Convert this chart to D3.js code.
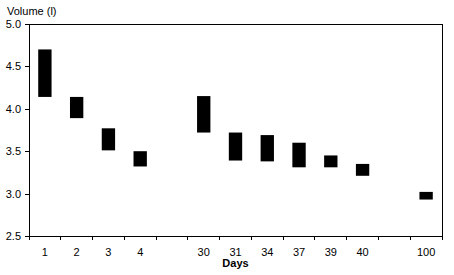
<!DOCTYPE html>
<html>
<head>
<meta charset="utf-8">
<script src="https://cdn.jsdelivr.net/npm/d3@7"></script>
<style>
  body { margin: 0; background: #fff; }
  text { font-family: "Liberation Sans", Arial, sans-serif; fill: #000; }
</style>
</head>
<body>
<div id="chart"></div>
<script>
// categories (empty strings are gaps on the axis)
const days = ["1", "2", "3", "4", "", "30", "31", "34", "37", "39", "40", "", "100"];
// floating bars: low and high volume per day
const lowVals  = [4.14, 3.89, 3.51, 3.32, null, 3.72, 3.39, 3.38, 3.31, 3.31, 3.21, null, 2.93];
const highVals = [4.70, 4.14, 3.77, 3.50, null, 4.15, 3.72, 3.69, 3.60, 3.45, 3.35, null, 3.02];
const yTicks = [2.5, 3.0, 3.5, 4.0, 4.5, 5.0];

const width = 454, height = 275;
const plotLeft = 29, plotRight = 442, plotTop = 24, plotBottom = 236;

const svg = d3.select("#chart").append("svg")
    .attr("width", width)
    .attr("height", height);

const x = d3.scaleBand()
    .domain(days.map((d, i) => i))
    .range([plotLeft, plotRight]);

const y = d3.scaleLinear()
    .domain([2.5, 5.0])
    .range([plotBottom, plotTop]);

const barW = x.bandwidth() * 0.42;

// frame on top and right
svg.append("path")
    .attr("d", `M${plotLeft},${plotTop}H${plotRight}V${plotBottom}`)
    .attr("fill", "none")
    .attr("stroke", "#000")
    .attr("shape-rendering", "crispEdges");

// bars
const rows = days.map((d, i) => ({ i, lo: lowVals[i], hi: highVals[i] }))
    .filter(d => d.lo != null);

svg.selectAll("rect.bar")
    .data(rows)
    .enter().append("rect")
    .attr("class", "bar")
    .attr("x", d => x(d.i) + (x.bandwidth() - barW) / 2)
    .attr("width", barW)
    .attr("y", d => y(d.hi))
    .attr("height", d => y(d.lo) - y(d.hi))
    .attr("fill", "#000");

// y axis
const yAxis = svg.append("g")
    .attr("transform", `translate(${plotLeft},0)`)
    .call(d3.axisLeft(y).tickValues(yTicks).tickFormat(d3.format(".1f")).tickSize(4).tickPadding(4));
yAxis.select(".domain").attr("stroke", "#000").attr("shape-rendering", "crispEdges");
yAxis.selectAll(".tick line").attr("shape-rendering", "crispEdges");
yAxis.selectAll("text").attr("font-size", 11).attr("font-family", "Liberation Sans, Arial, sans-serif");

// x axis: ticks on the band boundaries, labels in band centres
svg.append("line")
    .attr("x1", plotLeft).attr("x2", plotRight)
    .attr("y1", plotBottom).attr("y2", plotBottom)
    .attr("stroke", "#000")
    .attr("shape-rendering", "crispEdges");

svg.selectAll("line.xtick")
    .data(days.map((d, i) => i).concat([days.length]))
    .enter().append("line")
    .attr("class", "xtick")
    .attr("x1", i => i < days.length ? x(i) : plotRight)
    .attr("x2", i => i < days.length ? x(i) : plotRight)
    .attr("y1", plotBottom).attr("y2", plotBottom + 4)
    .attr("stroke", "#000")
    .attr("shape-rendering", "crispEdges");

svg.selectAll("text.xlab")
    .data(days)
    .enter().append("text")
    .attr("class", "xlab")
    .attr("x", (d, i) => x(i) + x.bandwidth() / 2)
    .attr("y", 256)
    .attr("text-anchor", "middle")
    .attr("font-size", 11)
    .text(d => d);

// titles
svg.append("text")
    .attr("x", (plotLeft + plotRight) / 2)
    .attr("y", 267)
    .attr("text-anchor", "middle")
    .attr("font-size", 11)
    .attr("font-weight", "bold")
    .text("Days");

svg.append("text")
    .attr("x", 7)
    .attr("y", 15)
    .attr("font-size", 11)
    .text("Volume (l)");
</script>
</body>
</html>
